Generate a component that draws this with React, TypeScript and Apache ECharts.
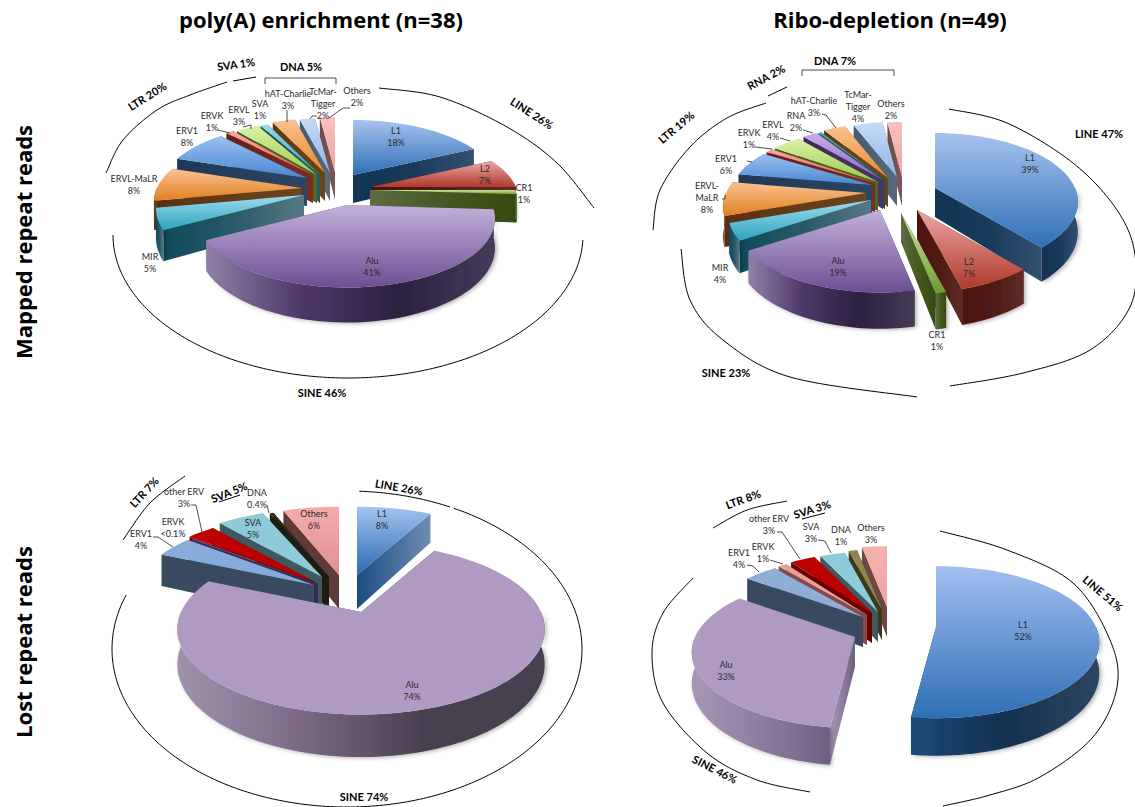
import React, { useEffect, useRef } from "react";
import * as echarts from "echarts";

// Repeat-family shares (percent of repeat reads) for the four panels.
const mappedPolyANames = ["L1", "L2", "CR1", "Alu", "MIR", "ERVL-MaLR", "ERV1", "ERVK", "ERVL", "SVA", "hAT-Charlie", "TcMar-Tigger", "Others"];
const mappedPolyAValues = [18, 7, 1, 41, 5, 8, 8, 1, 3, 1, 3, 2, 2];

const mappedRiboNames = ["L1", "L2", "CR1", "Alu", "MIR", "ERVL-MaLR", "ERV1", "ERVK", "ERVL", "RNA", "Minor", "hAT-Charlie", "TcMar-Tigger", "Others"];
const mappedRiboValues = [39, 7, 1, 19, 4, 8, 6, 1, 4, 2, 0.4, 3, 4, 2];

const lostPolyANames = ["L1", "Alu", "ERV1", "ERVK", "other ERV", "SVA", "DNA", "Others"];
const lostPolyAValues = [8, 74, 4, 0.1, 3, 5, 0.4, 6];

const lostRiboNames = ["L1", "Alu", "ERV1", "ERVK", "other ERV", "SVA", "DNA", "Others"];
const lostRiboValues = [52, 33, 4, 1, 3, 3, 1, 3];

const columnTitles = ["poly(A) enrichment (n=38)", "Ribo-depletion (n=49)"];
const rowTitles = ["Mapped repeat reads", "Lost repeat reads"];

type Tone = { top: string[]; side: string[] };

const glossy: Record<string, Tone> = {
  L1: { top: ["#a7c3ee", "#2e6fb6"], side: ["#123553", "#1a3a5c", "#34506f"] },
  L2: { top: ["#eba8a4", "#b0392c"], side: ["#4d130e", "#501a14", "#5e2c27"] },
  CR1: { top: ["#cbe996", "#6f9a35"], side: ["#5d6c46", "#45581f", "#364a12"] },
  Alu: { top: ["#c3b1da", "#6c4e94"], side: ["#8f80a7", "#4c3769", "#2c2040", "#463b57"] },
  MIR: { top: ["#9cdcec", "#2fa3bf"], side: ["#0e4a5b", "#2a5a68", "#577883"] },
  "ERVL-MaLR": { top: ["#fbc291", "#e07f20"], side: ["#5c3110", "#6b4420"] },
  ERV1: { top: ["#9ac1f3", "#4a86d0"], side: ["#1f3858", "#2c4565"] },
  ERVK: { top: ["#f6a9a4", "#e0605a"], side: ["#6a2018", "#7c2c22"] },
  ERVL: { top: ["#dcf2a6", "#9ac94e"], side: ["#3f5a15", "#4c6a1a"] },
  SVA: { top: ["#9adcec", "#2e9fbf"], side: ["#1e4b5c", "#245866"] },
  RNA: { top: ["#c9b0e6", "#8a63bd"], side: ["#3d2a5c", "#4a3468"] },
  Minor: { top: ["#4fa3a8", "#2a7f86"], side: ["#1d4f55", "#1d4f55"] },
  "hAT-Charlie": { top: ["#fbc291", "#e6892d"], side: ["#5f3a10", "#6c4516"] },
  "TcMar-Tigger": { top: ["#c6daf7", "#92b4e4"], side: ["#485a71", "#56697f"] },
  Others: { top: ["#f8c2bf", "#eaa2a2"], side: ["#6e4a48", "#7b5755"] },
};

const matteLeft: Record<string, Tone> = {
  L1: { top: ["#a2c4f1", "#2a6aae"], side: ["#1d4d80", "#446c9b", "#718db2"] },
  Alu: { top: ["#af9bc2", "#af9bc2"], side: ["#a092ac", "#7a6a86", "#4a4050", "#474050"] },
  ERV1: { top: ["#8aaddd", "#85a8d8"], side: ["#3a4b5f", "#3a4b5f"] },
  ERVK: { top: ["#9b82b5", "#9b82b5"], side: ["#3a2c50", "#3a2c50"] },
  "other ERV": { top: ["#bd0000", "#bb0000"], side: ["#6a0000", "#6a0000"] },
  SVA: { top: ["#8ecbd9", "#8ecbd9"], side: ["#3e5a60", "#3e5a60"] },
  DNA: { top: ["#2a2a18", "#2a2a18"], side: ["#1e1c10", "#1e1c10"] },
  Others: { top: ["#f5acaa", "#e08f8f"], side: ["#5f3a38", "#5f3a38"] },
};

const matteRight: Record<string, Tone> = {
  L1: { top: ["#a2bff0", "#2e6fb5"], side: ["#1b4a7a", "#15304f", "#2d4560"] },
  Alu: { top: ["#af9bc2", "#af9bc2"], side: ["#a896b6", "#8d7d9f", "#6e6080"] },
  ERV1: { top: ["#8eaed6", "#8eaed6"], side: ["#394a5e", "#394a5e"] },
  ERVK: { top: ["#eaa09a", "#eaa09a"], side: ["#8a4a48", "#8a4a48"] },
  "other ERV": { top: ["#bd0000", "#bb0000"], side: ["#6a0000", "#6a0000"] },
  SVA: { top: ["#8ecbd9", "#8ecbd9"], side: ["#3e5a60", "#3e5a60"] },
  DNA: { top: ["#908550", "#908550"], side: ["#3a3a1a", "#3a3a1a"] },
  Others: { top: ["#f6b1ad", "#f0a5a2"], side: ["#6e4644", "#6e4644"] },
};

// Each panel is a tilted, exploded pie seen in perspective: `width` and `depth` are the
// half axes on the page, `height` the wall thickness, `apex` the tip of every slice.
const panels = [
  {
    names: mappedPolyANames, values: mappedPolyAValues, tones: glossy,
    width: 145, depth: 66, height: 28,
    apex: [[353, 175], [371, 187], [370, 190], [347, 205], [304, 195], [302, 188], [307, 178], [313, 175], [317, 175], [320, 175], [325, 173], [330, 173], [335, 172]],
  },
  {
    names: mappedRiboNames, values: mappedRiboValues, tones: glossy,
    width: 140, depth: 66, height: 29,
    apex: [[935, 188], [917, 210], [901, 213], [880, 210], [871, 200], [866, 193], [872, 185], [875, 183], [878, 182], [883, 180], [885, 180], [888, 178], [897, 177], [902, 177]],
  },
  {
    names: lostPolyANames, values: lostPolyAValues, tones: matteLeft,
    width: 180, depth: 82, height: 34,
    apex: [[357, 575], [361, 612], [314, 585], [318, 584], [315, 582], [322, 577], [329, 577], [339, 575]],
  },
  {
    names: lostRiboNames, values: lostRiboValues, tones: matteRight,
    width: 160, depth: 73, height: 30,
    apex: [[936, 627], [855, 637], [863, 617], [867, 615], [872, 613], [878, 612], [882, 610], [887, 607]],
  },
];

const PERSPECTIVE = 0.2;
const rad = (d: number) => (d * Math.PI) / 180;

function gradient(stops: string[], horizontal: boolean) {
  return {
    type: "linear", x: 0, y: 0, x2: horizontal ? 1 : 0, y2: horizontal ? 0 : 1,
    colorStops: stops.map((color, i) => ({ offset: stops.length > 1 ? i / (stops.length - 1) : 0, color })),
  };
}

// Slices of one panel, with their angle spans, sorted far-to-near for painting.
function buildSlices(panel: (typeof panels)[number]) {
  const total = panel.values.reduce((a, b) => a + b, 0);
  let angle = 0;
  const slices = panel.values.map((value, i) => {
    const start = angle;
    angle += (value / total) * 360;
    return { name: panel.names[i], value: [value, start, angle, i] };
  });
  return slices.sort((a, b) => Math.cos(rad((b.value[1] + b.value[2]) / 2)) - Math.cos(rad((a.value[1] + a.value[2]) / 2)));
}

function pieSeries(panel: (typeof panels)[number]) {
  return {
    type: "custom",
    coordinateSystem: "none",
    silent: true,
    data: buildSlices(panel),
    renderItem: (_params: any, api: any) => {
      const start = api.value(1);
      const end = api.value(2);
      const index = api.value(3);
      const tone = panel.tones[panel.names[index]];
      const [ax, ay] = panel.apex[index];
      const at = (deg: number, drop: number) => {
        const s = 1 / (1 + PERSPECTIVE * Math.cos(rad(deg)));
        return [
          ax + panel.width * Math.sin(rad(deg)) * s,
          ay - panel.depth * Math.cos(rad(deg)) * s + drop * s,
        ];
      };
      const arc = (a: number, b: number, drop: number) => {
        const pts: number[][] = [];
        const n = Math.max(1, Math.ceil((b - a) / 2));
        for (let i = 0; i <= n; i++) pts.push(at(a + ((b - a) * i) / n, drop));
        return pts;
      };
      const h = panel.height;
      const sideFill = gradient(tone.side, true);
      const face = (deg: number) => ({
        type: "polygon",
        shape: { points: [[ax, ay], at(deg, 0), at(deg, h), [ax, ay + h]] },
        style: { fill: sideFill },
      });
      // The face turned further from the viewer goes first.
      const faces = Math.cos(rad(start - 90)) > Math.cos(rad(end + 90)) ? [start, end] : [end, start];
      const children: any[] = faces.map(face);
      const wallA = Math.max(start, 90);
      const wallB = Math.min(end, 270);
      if (wallB > wallA) {
        children.push({
          type: "polygon",
          shape: { points: [...arc(wallA, wallB, 0), ...arc(wallA, wallB, h).reverse()] },
          style: { fill: sideFill, shadowBlur: 4, shadowColor: "rgba(0,0,0,0.3)", shadowOffsetX: 2, shadowOffsetY: 1 },
        });
      }
      children.push({
        type: "polygon",
        shape: { points: [[ax, ay], ...arc(start, end, 0)] },
        style: { fill: gradient(tone.top, false) },
      });
      return { type: "group", children };
    },
  };
}

// Slice captions: [text, centre x, centre y]
const sliceLabels: [string, number, number][] = [
  ["L1\n18%", 396, 136], ["L2\n7%", 485, 174], ["CR1\n1%", 524, 193], ["Alu\n41%", 372, 266], ["MIR\n5%", 150, 262],
  ["ERVL-MaLR\n8%", 134, 184], ["ERV1\n8%", 187, 136], ["ERVK\n1%", 212, 121], ["ERVL\n3%", 239, 115], ["SVA\n1%", 260, 109],
  ["hAT-Charlie\n3%", 288, 99], ["TcMar-\nTigger\n2%", 323, 103], ["Others\n2%", 357, 96],

  ["L1\n39%", 1030, 163], ["L2\n7%", 969, 267], ["CR1\n1%", 937, 340], ["Alu\n19%", 838, 266], ["MIR\n4%", 720, 273],
  ["ERVL-\nMaLR\n8%", 707, 197], ["ERV1\n6%", 726, 164], ["ERVK\n1%", 749, 138], ["ERVL\n4%", 773, 130], ["RNA\n2%", 796, 121],
  ["hAT-Charlie\n3%", 814, 106], ["TcMar-\nTigger\n4%", 858, 106], ["Others\n2%", 891, 109],

  ["L1\n8%", 382, 519], ["Alu\n74%", 412, 690], ["ERV1\n4%", 141, 539], ["ERVK\n<0.1%", 173, 527], ["other ERV\n3%", 184, 497],
  ["SVA\n5%", 253, 528], ["DNA\n0.4%", 257, 498], ["Others\n6%", 314, 519],

  ["L1\n52%", 1023, 630], ["Alu\n33%", 726, 670], ["ERV1\n4%", 739, 558], ["ERVK\n1%", 763, 552], ["other ERV\n3%", 769, 524],
  ["SVA\n3%", 811, 532], ["DNA\n1%", 841, 535], ["Others\n3%", 871, 533],
];

// Family captions: [text, centre x, centre y, rotation in degrees]
const familyLabels: [string, number, number, number][] = [
  ["LTR 20%", 147, 96, 32], ["SVA 1%", 236, 64, 8], ["DNA 5%", 301, 66, 0], ["LINE 26%", 532, 113, -33], ["SINE 46%", 322, 392, 0],
  ["DNA 7%", 835, 60, 0], ["RNA 2%", 766, 77, 28], ["LTR 19%", 676, 127, 40], ["LINE 47%", 1099, 133, 0], ["SINE 23%", 726, 372, 0],
  ["LTR 7%", 144, 492, 47], ["SVA 5%", 229, 492, 22], ["LINE 26%", 399, 487, -10], ["SINE 74%", 364, 796, 0],
  ["LTR 8%", 743, 499, 20], ["SVA 3%", 812, 509, 17], ["LINE 51%", 1103, 593, -40], ["SINE 46%", 715, 769, -27],
];

// Curved brackets round the pies, drawn through hand-placed points
const familyArcs: number[][][] = [
  [[106, 173], [123, 140], [157, 110], [190, 95], [227, 82]],
  [[233, 81], [256, 77]],
  [[379, 88], [440, 97], [507, 127], [557, 163], [594, 208]],

  [[653, 230], [660, 190], [690, 147], [727, 118], [766, 103]],
  [[768, 96], [787, 87]],
  [[949, 109], [1007, 123], [1073, 163], [1117, 210], [1135, 255], [1130, 307], [1090, 350], [1023, 373], [950, 386]],
  [[681, 249], [690, 300], [723, 340], [790, 377], [917, 397]],

  [[123, 540], [150, 503], [185, 476]],
  [[219, 502], [240, 495]],

  [[713, 528], [747, 510], [787, 501]],
  [[802, 519], [825, 513]],
  [[940, 531], [1007, 550], [1073, 583], [1110, 640], [1117, 687], [1093, 737], [1040, 777], [990, 795], [943, 806]],
  [[693, 578], [663, 613], [652, 653], [663, 703], [707, 753], [757, 780], [810, 792]],
];

// Elliptical brackets: [centre x, centre y, radius x, radius y, from deg, to deg]
const familyEllipses: number[][] = [
  [348, 235, 235, 143, 2, 180],
  [347, 649, 235, 158, -87, -64],
  [347, 649, 235, 158, -63, 200],
];

// Straight strokes: DNA brackets and leader lines
const leaders: number[][][] = [
  [[265, 84], [265, 78], [336, 78], [336, 84]],
  [[218, 130], [230, 133]], [[243, 127], [251, 125], [251, 129]], [[287, 110], [287, 122]],
  [[310, 119], [312, 116], [317, 116]], [[350, 108], [343, 108], [329, 118]],

  [[802, 76], [802, 70], [894, 70], [894, 76]],
  [[747, 161], [752, 162]], [[755, 147], [772, 149]], [[780, 138], [790, 141]], [[803, 130], [813, 133]],
  [[822, 114], [826, 115], [836, 128]], [[722, 199], [725, 199], [725, 195]],

  [[153, 537], [158, 537], [173, 547]], [[191, 505], [196, 505], [202, 532]], [[267, 505], [269, 513]],

  [[747, 565], [753, 566], [759, 572]], [[770, 560], [783, 564]], [[777, 532], [782, 532], [800, 559]], [[818, 540], [825, 541], [831, 553]],
];

const FONT = "Lato";
const HEADING_FONT = "Open Sans";

// Catmull-Rom spline through the given points, sampled finely enough to read as a curve.
function spline(points: number[][]) {
  if (points.length < 3) return points;
  const out: number[][] = [];
  for (let i = 0; i < points.length - 1; i++) {
    const p0 = points[Math.max(i - 1, 0)];
    const p1 = points[i];
    const p2 = points[i + 1];
    const p3 = points[Math.min(i + 2, points.length - 1)];
    for (let k = 0; k < 16; k++) {
      const t = k / 16;
      const c = (a: number, b: number, d: number, e: number) =>
        0.5 * (2 * b + (d - a) * t + (2 * a - 5 * b + 4 * d - e) * t * t + (3 * b - a - 3 * d + e) * t * t * t);
      out.push([c(p0[0], p1[0], p2[0], p3[0]), c(p0[1], p1[1], p2[1], p3[1])]);
    }
  }
  out.push(points[points.length - 1]);
  return out;
}

function ellipsePoints([cx, cy, rx, ry, from, to]: number[]) {
  const pts: number[][] = [];
  const n = Math.ceil(Math.abs(to - from));
  for (let i = 0; i <= n; i++) {
    const t = rad(from + ((to - from) * i) / n);
    pts.push([cx + rx * Math.cos(t), cy + ry * Math.sin(t)]);
  }
  return pts;
}

function overlay() {
  const els: any[] = [];
  [...familyArcs.map(spline), ...familyEllipses.map(ellipsePoints)].forEach((points) =>
    els.push({ type: "polyline", z: 50, silent: true, shape: { points }, style: { fill: "none", stroke: "#000", lineWidth: 1 } })
  );
  leaders.forEach((points) =>
    els.push({ type: "polyline", z: 50, silent: true, shape: { points }, style: { fill: "none", stroke: "#222", lineWidth: 0.8 } })
  );
  sliceLabels.forEach(([text, x, y]) =>
    els.push({
      type: "text", z: 60, silent: true, x, y,
      style: { text, fontFamily: FONT, fontSize: 9, lineHeight: 12, fill: "#2b2b2b", align: "center", verticalAlign: "middle" },
    })
  );
  familyLabels.forEach(([text, x, y, deg]) =>
    els.push({
      type: "text", z: 60, silent: true, x, y, rotation: rad(deg),
      style: { text, fontFamily: FONT, fontSize: 11, fontWeight: "bold", fill: "#000", align: "center", verticalAlign: "middle" },
    })
  );
  [321, 890].forEach((x, i) =>
    els.push({
      type: "text", z: 60, silent: true, x, y: 19,
      style: { text: columnTitles[i], fontFamily: HEADING_FONT, fontSize: 22, fontWeight: "bold", fill: "#000", align: "center", verticalAlign: "middle" },
    })
  );
  [242, 642].forEach((y, i) =>
    els.push({
      type: "text", z: 60, silent: true, x: 23, y, rotation: Math.PI / 2,
      style: { text: rowTitles[i], fontFamily: HEADING_FONT, fontSize: 22, fontWeight: "bold", fill: "#000", align: "center", verticalAlign: "middle" },
    })
  );
  return els;
}

export default function App() {
  const ref = useRef<HTMLDivElement>(null);
  useEffect(() => {
    const chart = echarts.init(ref.current!, undefined, { renderer: "svg" });
    chart.setOption({
      animation: false,
      backgroundColor: "#ffffff",
      series: panels.map(pieSeries),
      graphic: { elements: overlay() },
    });
    return () => chart.dispose();
  }, []);
  return <div ref={ref} style={{ position: "fixed", left: 0, top: 0, width: 1135, height: 807 }} />;
}
